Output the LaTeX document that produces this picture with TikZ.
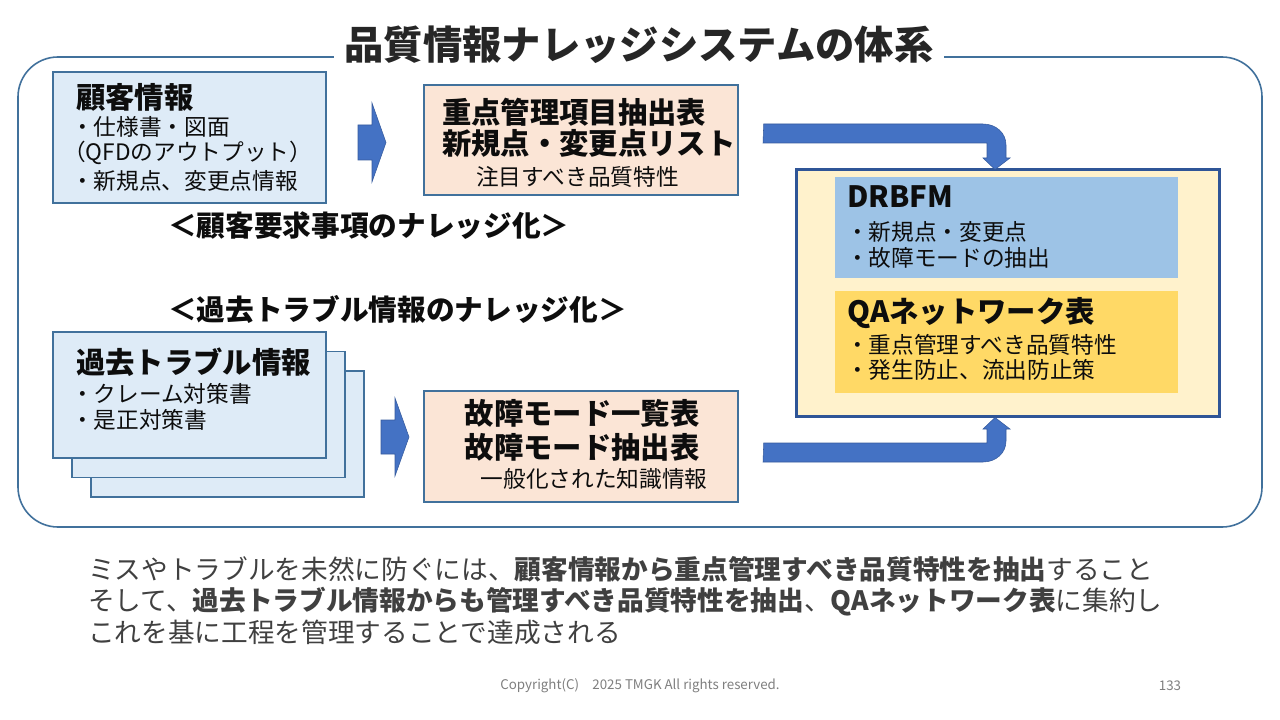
\documentclass[tikz,border=0pt]{standalone}
\usepackage{fontspec}
\setmainfont{Noto Sans CJK JP}
\usetikzlibrary{calc}
\definecolor{frameblue}{HTML}{41719C}
\definecolor{darkblue}{HTML}{2F5597}
\definecolor{lblue}{HTML}{DEEBF7}
\definecolor{peach}{HTML}{FBE5D6}
\definecolor{cream}{HTML}{FFF2CC}
\definecolor{skyblue}{HTML}{9DC3E6}
\definecolor{gold}{HTML}{FFD966}
\definecolor{arrowblue}{HTML}{4472C4}
\definecolor{txt}{HTML}{0D0D0D}
\definecolor{titletxt}{HTML}{262626}
\definecolor{bodytxt}{HTML}{404040}
\definecolor{foot}{HTML}{7F7F7F}
\begin{document}
\begin{tikzpicture}[x=0.75pt,y=-0.75pt,
  box/.style={draw=frameblue, line width=1.1pt, inner sep=0pt},
  hd/.style={anchor=west, inner sep=0pt, font=\fontsize{22}{26}\selectfont\bfseries, text=txt},
  hdc/.style={inner sep=0pt, font=\fontsize{22}{26}\selectfont\bfseries, text=txt},
  itm/.style={anchor=west, inner sep=0pt, font=\fontsize{17}{20}\selectfont, text=txt},
  itmc/.style={inner sep=0pt, font=\fontsize{17}{20}\selectfont, text=txt},
  sec/.style={anchor=west, inner sep=0pt, font=\fontsize{21.5}{26}\selectfont\bfseries, text=txt},
  body/.style={anchor=west, inner sep=0pt, font=\fontsize{20}{24}\selectfont, text=bodytxt},
  fat/.style={fill=arrowblue, draw=arrowblue!80!black, line width=0.4pt}
]
\useasboundingbox (0,0) rectangle (1280,720);
\fill[white] (0,0) rectangle (1280,720);

% outer frame and title
\draw[frameblue, line width=1.2pt, rounded corners=30pt] (18,57) rectangle (1262,527);
\node[fill=white, inner xsep=8pt, inner ysep=2pt, font=\fontsize{29.5}{35}\selectfont\bfseries, text=titletxt] (title) at (639,45) {品質情報ナレッジシステムの体系};

% customer info box
\node[box, fill=lblue, minimum width=204.75pt, minimum height=98.25pt] (A) at (189.5,137.5) {};
\node[hd] (A1) at (76,97) {顧客情報};
\node[itm] (A2) at (71,127) {・仕様書・図面};
\node[itm] (A3) at (63,153) {（QFDのアウトプット）};
\node[itm] (A4) at (71,181) {・新規点、変更点情報};

% key item list box
\node[box, fill=peach, minimum width=235.5pt, minimum height=82.5pt] (B) at (581,140) {};
\node[hd] (B1) at (442,112) {重点管理項目抽出表};
\node[hd] (B2) at (442,143) {新規点・変更点リスト};
\node[itm] (B3) at (476,177) {注目すべき品質特性};

% section headings
\node[sec] (S1) at (168,226) {＜顧客要求事項のナレッジ化＞};
\node[sec] (S2) at (168,309) {＜過去トラブル情報のナレッジ化＞};

% past trouble stack
\node[box, fill=lblue, minimum width=204.75pt, minimum height=94.5pt] (C3) at (227.5,434) {};
\node[box, fill=lblue, minimum width=204.75pt, minimum height=94.5pt] (C2) at (208.5,414.5) {};
\node[box, fill=lblue, minimum width=204.75pt, minimum height=94.5pt] (C) at (189.5,395) {};
\node[hd] (C1) at (76,362) {過去トラブル情報};
\node[itm] (Ci1) at (71,394) {・クレーム対策書};
\node[itm] (Ci2) at (71,420) {・是正対策書};

% failure mode box
\node[box, fill=peach, minimum width=235.5pt, minimum height=83.25pt] (D) at (581,446.5) {};
\node[hdc] (D1) at (582,413) {故障モード一覧表};
\node[hdc] (D2) at (582,447) {故障モード抽出表};
\node[itmc] (D3) at (594,479) {一般化された知識情報};

% right box
\node[draw=darkblue, line width=2.25pt, fill=cream, inner sep=0pt, minimum width=317.25pt, minimum height=184.5pt] (R) at (1007.5,293) {};
\node[fill=skyblue, inner sep=0pt, minimum width=257.25pt, minimum height=75.75pt] (DR) at (1006.5,227.5) {};
\node[hd] (DR1) at (847,197) {DRBFM};
\node[itm] (DR2) at (846,232) {・新規点・変更点};
\node[itm] (DR3) at (846,258) {・故障モードの抽出};
\node[fill=gold, inner sep=0pt, minimum width=257.25pt, minimum height=76.5pt] (QA) at (1006.5,342) {};
\node[hd] (QA1) at (847,313) {QAネットワーク表};
\node[itm] (QA2) at (846,345) {・重点管理すべき品質特性};
\node[itm] (QA3) at (846,370) {・発生防止、流出防止策};

% block arrows
\fill[fat] (358,125) -- (372,125) -- (372,103) -- (386,142.5) -- (372,182) -- (372,160) -- (358,160) -- cycle;
\fill[fat] (381,420) -- (395,420) -- (395,398) -- (409,437) -- (395,476) -- (395,454) -- (381,454) -- cycle;

% bent arrows
\coordinate (s1) at ($(B.east)+(25,-16)$);
\coordinate (t1) at ($(R.north west)+(200.5,1)$);
\fill[fat] (s1) -- (983,124) .. controls (996,124) and (1006,133) .. (1006,145) -- (1006,158) -- (1010,158) -- (t1) -- (983,158) -- (987,158) -- (987,143) -- (763,143) -- cycle;
\coordinate (s2) at ($(D.east)+(25,-3.5)$);
\coordinate (t2) at ($(R.south west)+(200.5,0)$);
\fill[fat] (s2) -- (987,443) -- (987,429) -- (983,429) -- (t2) -- (1010,429) -- (1006,429) -- (1006,441) .. controls (1006,453) and (996,462) .. (983,462) -- (763,462) -- cycle;

% bottom text
\node[body] (L1) at (88,569) {ミスやトラブルを未然に防ぐには、\textbf{顧客情報から重点管理すべき品質特性を抽出}すること};
\node[body] (L2) at (88,602) {そして、\textbf{過去トラブル情報からも管理すべき品質特性を抽出}、\textbf{QAネットワーク表}に集約し};
\node[body] (L3) at (88,632) {これを基に工程を管理することで達成される};

% footer
\node[inner sep=0pt, font=\fontsize{10}{12}\selectfont, text=foot] (copy) at (640,686) {Copyright(C)　2025 TMGK All rights reserved.};
\node[inner sep=0pt, font=\fontsize{10}{12}\selectfont, text=foot] (page) at (1170,686) {133};
\end{tikzpicture}
\end{document}
